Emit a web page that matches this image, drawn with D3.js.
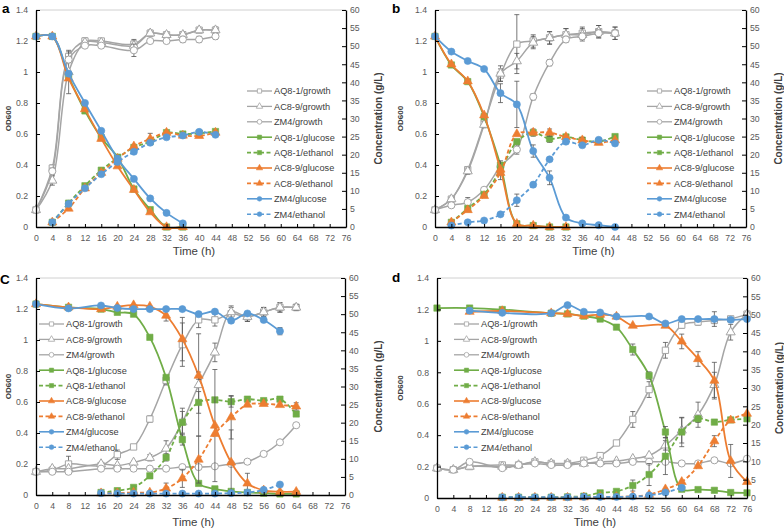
<!DOCTYPE html>
<html>
<head>
<meta charset="utf-8">
<script src="https://cdn.jsdelivr.net/npm/d3@7"></script>
<style>
  body { margin: 0; background: #fff; }
  text { font-family: Arial, "Liberation Sans", sans-serif; }
</style>
</head>
<body>
<svg id="chart" width="784" height="530"></svg>
<script>
// tick labels
const xTicks = [0, 4, 8, 12, 16, 20, 24, 28, 32, 36, 40, 44, 48, 52, 56, 60, 64, 68, 72, 76];
const odTicks = [0, 0.2, 0.4, 0.6, 0.8, 1, 1.2, 1.4];
const concTicks = [0, 5, 10, 15, 20, 25, 30, 35, 40, 45, 50, 55, 60];
const seriesNames = ["AQ8-1/growth", "AC8-9/growth", "ZM4/growth", "AQ8-1/glucose", "AQ8-1/ethanol",
  "AC8-9/glucose", "AC8-9/ethanol", "ZM4/glucose", "ZM4/ethanol"];

// panel a (growth = OD600, glucose/ethanol = g/L)
const aGrowthT = [0, 4, 8, 12, 16, 24, 28, 32, 36, 40, 44];
const aAQGrowth = [0.11, 0.38, 1.10, 1.20, 1.20, 1.18, 1.25, 1.24, 1.24, 1.27, 1.27];
const aACGrowth = [0.11, 0.30, 1.00, 1.19, 1.19, 1.17, 1.25, 1.24, 1.24, 1.27, 1.27];
const aZMGrowth = [0.11, 0.36, 1.08, 1.17, 1.17, 1.14, 1.20, 1.20, 1.21, 1.21, 1.23];
const aAQGrowthErr = [0, 0.02, 0.03, 0.02, 0.01, 0.02, 0.02, 0.01, 0.02, 0.01, 0.02];
const aACGrowthErr = [0, 0.03, 0.14, 0.01, 0.01, 0.04, 0.01, 0.01, 0.01, 0.01, 0.01];
const aZMGrowthErr = [0, 0.02, 0.02, 0.01, 0.01, 0.04, 0.01, 0.01, 0.02, 0.02, 0.02];
const aGluT = [0, 4, 8, 12, 16, 20, 24, 28, 32, 36];
const aAQGlu = [52.7, 52.7, 41.6, 32.1, 24.7, 19.3, 10.5, 4.8, 0, 0];
const aACGlu = [52.7, 52.7, 41.1, 32.6, 24.4, 16.8, 10.3, 4.1, 0, 0];
const aZMGlu = [52.7, 52.7, 42.4, 34.3, 26.6, 18.9, 13.3, 7.9, 3.9, 1.0];
const aEthT = [4, 8, 12, 16, 20, 24, 28, 32, 36, 40, 44];
const aAQEth = [1.3, 6.6, 11.4, 15.7, 19.1, 22.0, 23.6, 26.1, 25.7, 25.9, 26.4];
const aACEth = [1.3, 5.1, 10.7, 15.0, 18.9, 22.3, 24.4, 26.1, 25.3, 25.2, 26.1];
const aZMEth = [1.3, 6.4, 10.7, 14.6, 18.0, 20.8, 23.3, 24.8, 25.3, 26.3, 25.5];
const aACEthErr = [0, 0, 0, 0, 0, 0, 1.5, 0, 0, 0, 0];

// panel b
const bGrowthT = [0, 4, 8, 12, 16, 20, 24, 28, 32, 36, 40, 44];
const bAQGrowth = [0.11, 0.18, 0.37, 0.67, 0.98, 1.18, 1.20, 1.22, 1.24, 1.25, 1.26, 1.25];
const bACGrowth = [0.11, 0.18, 0.36, 0.66, 0.99, 1.07, 1.19, 1.22, 1.24, 1.24, 1.26, 1.25];
const bZMGrowth = [0.11, 0.14, 0.16, 0.24, 0.39, 0.50, 0.84, 1.06, 1.21, 1.23, 1.25, 1.25];
const bAQGrowthErr = [0, 0.01, 0.02, 0.02, 0.04, 0.19, 0.04, 0.04, 0.04, 0.04, 0.04, 0.04];
const bACGrowthErr = [0, 0.01, 0.02, 0.02, 0.05, 0.05, 0.04, 0.04, 0.04, 0.04, 0.04, 0.04];
const bZMGrowthErr = [0, 0.01, 0.03, 0.01, 0.02, 0.03, 0.02, 0.02, 0.02, 0.02, 0.02, 0.02];
const bGluT = [0, 4, 8, 12, 16, 20, 24, 28, 32];
const bAQGlu = [52.7, 44.8, 40.2, 30.5, 17.1, 0.9, 0.4, 0, 0];
const bACGlu = [52.7, 45.0, 40.3, 30.9, 15.9, 0.9, 0.4, 0, 0];
const bZMGlu = [52.7, 48.5, 45.9, 43.7, 37.0, 33.9, 21.0, 13.6, 2.6, 1.0, 0.5, 0];
const bZMGluErr = [0, 0, 0, 0, 2.6, 6.4, 1.7, 1.9, 0, 0, 0, 0];
const bEthT = [4, 8, 12, 16, 20, 24, 28, 32, 36, 40, 44];
const bAQEth = [1.3, 5.1, 9.0, 15.7, 23.6, 26.1, 24.4, 24.9, 24.0, 23.6, 25.0];
const bACEth = [1.3, 4.7, 8.6, 15.0, 25.7, 26.1, 26.1, 24.9, 24.0, 23.3, 24.0];
const bZMEth = [0.4, 1.3, 1.8, 3.5, 7.4, 11.7, 18.7, 23.6, 22.6, 24.1, 23.1];
const bAQEthErr = [0, 0, 0, 2.6, 0, 1.0, 1.0, 0, 0, 0, 0];
const bACEthErr = [0, 0, 0, 0, 0, 0, 1.0, 0, 0.8, 0, 0];
const bZMEthErr = [0, 0, 0, 0, 1.7, 0, 0, 0, 0, 0, 0];

// panel c
const cGrowthT = [0, 4, 8, 16, 20, 24, 28, 32, 36, 40, 44, 48, 52, 56, 60, 64];
const cAQGrowth = [0.15, 0.16, 0.20, 0.19, 0.26, 0.31, 0.49, 0.74, 0.97, 1.13, 1.13, 1.17, 1.15, 1.18, 1.21, 1.21];
const cACGrowth = [0.15, 0.17, 0.17, 0.20, 0.19, 0.21, 0.24, 0.30, 0.47, 0.71, 0.92, 1.18, 1.15, 1.18, 1.21, 1.21];
const cZMGrowth = [0.15, 0.15, 0.15, 0.17, 0.17, 0.17, 0.17, 0.17, 0.18, 0.18, 0.185, 0.20, 0.215, 0.265, 0.34, 0.45];
const cAQGrowthErr = [0, 0, 0.05, 0.02, 0.03, 0.01, 0.02, 0.03, 0.14, 0.05, 0.04, 0.04, 0.03, 0.03, 0.03, 0.02];
const cACGrowthErr = [0, 0, 0, 0, 0, 0.01, 0.02, 0.05, 0.09, 0.33, 0.06, 0.04, 0.03, 0.03, 0.03, 0.02];
const cGluT = [0, 8, 16, 20, 24, 28, 32, 36, 40, 44, 48, 52, 56, 60, 64];
const cAQGlu = [52.8, 51.9, 51.4, 50.5, 50.0, 43.6, 32.5, 15.3, 3.2, 1.7, 1.0, 0.7, 0.5, 0.3, 0.3];
const cACGlu = [52.8, 51.9, 51.4, 52.1, 52.5, 52.1, 49.6, 43.1, 33.0, 19.2, 9.0, 3.2, 1.3, 0.9, 0.9];
const cZMGlu = [52.8, 51.6, 52.4, 51.7, 51.4, 51.4, 51.4, 51.4, 50.0, 50.7, 48.2, 50.2, 48.4, 45.3];
const cAQGluErr = [0, 0, 0, 0, 0, 0, 0, 1.5, 0, 0, 0, 0, 0, 0, 0];
const cACGluErr = [0, 0, 0, 0, 0, 0, 1.5, 6, 1, 15.5, 9, 2.8, 0, 0, 0];
const cZMGluErr = [0, 0, 0, 0, 0, 0, 0, 0, 0, 0, 0, 0, 0, 1];
const cEthT = [16, 20, 24, 28, 32, 36, 40, 44, 48, 52, 56, 60, 64];
const cAQEth = [0.7, 1.2, 2.1, 5.3, 10.4, 20.1, 25.6, 26.3, 25.8, 26.5, 26.1, 26.5, 22.4];
const cACEth = [0.5, 0.5, 0.7, 0.7, 1.8, 4.6, 9.8, 16.9, 21.5, 25.0, 25.2, 24.9, 24.5];
const cZMEth = [0.5, 0.4, 0.4, 0.4, 0.4, 0.4, 0.4, 0.4, 0.5, 0.7, 1.4, 2.9];
const cAQEthErr = [0, 0, 0, 0, 1, 3, 3, 0, 1.5, 0, 0, 0, 0];
const cACEthErr = [0, 0, 0, 0, 1.5, 2.5, 6.5, 0, 6, 0, 0, 0, 1];

// panel d
const dGrowthT = [0, 4, 8, 16, 20, 24, 28, 32, 36, 40, 44, 48, 52, 56, 60, 64, 68, 72, 76];
const dAQGrowth = [0.19, 0.18, 0.20, 0.21, 0.21, 0.23, 0.22, 0.22, 0.24, 0.27, 0.35, 0.50, 0.69, 0.94, 1.10, 1.12, 1.13, 1.14, 1.17];
const dACGrowth = [0.19, 0.18, 0.20, 0.20, 0.21, 0.23, 0.22, 0.22, 0.22, 0.23, 0.235, 0.25, 0.27, 0.335, 0.43, 0.53, 0.72, 1.055, 1.17];
const dZMGrowth = [0.19, 0.18, 0.23, 0.19, 0.21, 0.22, 0.21, 0.21, 0.22, 0.22, 0.22, 0.23, 0.23, 0.23, 0.22, 0.22, 0.24, 0.22, 0.25];
const dAQGrowthErr = [0, 0, 0, 0, 0, 0, 0, 0, 0, 0, 0.01, 0.05, 0.05, 0.05, 0.02, 0.02, 0.02, 0.01, 0.01];
const dACGrowthErr = [0, 0, 0, 0, 0, 0, 0, 0, 0, 0, 0, 0, 0, 0.03, 0.08, 0.08, 0.08, 0.05, 0.01];
const dAQGluT = [0, 8, 16, 28, 32, 36, 40, 44, 48, 52, 56, 60, 64, 68, 72, 76];
const dAQGlu = [51.8, 51.8, 51.4, 50.4, 50.2, 49.6, 48.8, 46.6, 40.5, 33.4, 18.0, 2.4, 2.3, 2.1, 1.5, 1.4];
const dAQGluErr = [0, 0, 0, 0, 0, 0, 0, 0.5, 1.5, 1.0, 1.5, 0, 0, 0, 0, 0];
const dACGluT = [8, 16, 28, 32, 36, 40, 44, 48, 56, 60, 64, 68, 72, 76];
const dACGlu = [50.8, 51.0, 50.4, 50.2, 49.7, 50.0, 49.5, 47.0, 47.0, 42.7, 37.9, 32.0, 10.1, 4.4];
const dACGluErr = [0, 0, 0, 0, 0, 0, 0, 0, 0, 2, 2, 5, 4.5, 0];
const dZMGluT = [8, 16, 28, 32, 36, 40, 44, 52, 56, 60, 64, 68, 72, 76];
const dZMGlu = [51.1, 50.5, 50.4, 52.6, 50.8, 50.6, 49.5, 49.5, 47.6, 48.8, 48.8, 48.8, 48.6, 48.8];
const dZMGluErr = [0, 0, 0, 0, 0, 0, 0, 0, 0, 0, 0, 2, 0, 0];
const dEthT = [16, 20, 24, 28, 32, 36, 40, 44, 48, 52, 56, 60, 64, 68, 72, 76];
const dAQEth = [0.2, 0.2, 0.2, 0.2, 0.3, 0.5, 1.4, 1.8, 3.4, 6.4, 11.4, 18.0, 21.6, 20.7, 21.3, 21.6];
const dACEth = [0.1, 0.1, 0.1, 0.1, 0.1, 0.2, 0.3, 0.3, 0.5, 0.9, 2.4, 4.4, 8.7, 15.5, 21.2, 23.0];
const dZMEth = [0.2, 0.2, 0.2, 0.2, 0.2, 0.3, 0.3, 0.3, 0.4, 0.7, 1.5, 2.8];
const dAQEthErr = [0, 0, 0, 0, 0, 0, 0, 0, 1.5, 3, 5, 4, 1, 0, 0, 0];
const dACEthErr = [0, 0, 0, 0, 0, 0, 0, 0, 0, 0, 0, 0, 0, 1.5, 0, 0];

const GRAY = "#a5a5a5", GREEN = "#70ad47", ORANGE = "#ed7d31", BLUE = "#5b9bd5";
const DASH = "4,2.5";

// one style per legend entry, same order as seriesNames
const styles = [
  { color: GRAY, marker: d3.symbolSquare, open: true, axis: "L" },
  { color: GRAY, marker: d3.symbolTriangle, open: true, axis: "L" },
  { color: GRAY, marker: d3.symbolCircle, open: true, axis: "L" },
  { color: GREEN, marker: d3.symbolSquare, axis: "R" },
  { color: GREEN, marker: d3.symbolSquare, dash: DASH, axis: "R" },
  { color: ORANGE, marker: d3.symbolTriangle, axis: "R" },
  { color: ORANGE, marker: d3.symbolTriangle, dash: DASH, axis: "R" },
  { color: BLUE, marker: d3.symbolCircle, axis: "R" },
  { color: BLUE, marker: d3.symbolCircle, dash: DASH, axis: "R" }
];

const panels = [
  { label: "a", l: 36, r: 346, t: 10, b: 227, lab: [2, 12.5], odX: 10.5, concX: 381.5, timeY: 255,
    leg: { x: 211, y: 81 },
    data: [[aGrowthT, aAQGrowth, aAQGrowthErr], [aGrowthT, aACGrowth, aACGrowthErr], [aGrowthT, aZMGrowth, aZMGrowthErr],
      [aGluT, aAQGlu], [aEthT, aAQEth], [aGluT, aACGlu], [aEthT, aACEth, aACEthErr], [aGluT, aZMGlu], [aEthT, aZMEth]] },
  { label: "b", l: 435, r: 746, t: 10, b: 227, lab: [392, 13], odX: 402.5, concX: 782, timeY: 255,
    leg: { x: 212, y: 81 },
    data: [[bGrowthT, bAQGrowth, bAQGrowthErr], [bGrowthT, bACGrowth, bACGrowthErr], [bGrowthT, bZMGrowth, bZMGrowthErr],
      [bGluT, bAQGlu], [bEthT, bAQEth, bAQEthErr], [bGluT, bACGlu], [bEthT, bACEth, bACEthErr],
      [bGrowthT, bZMGlu, bZMGluErr], [bEthT, bZMEth, bZMEthErr]] },
  { label: "C", l: 36, r: 345, t: 278, b: 495, lab: [0, 283.5], odX: 10.5, concX: 381.5, timeY: 526,
    leg: { x: 3, y: 46 },
    data: [[cGrowthT, cAQGrowth, cAQGrowthErr], [cGrowthT, cACGrowth, cACGrowthErr], [cGrowthT, cZMGrowth],
      [cGluT, cAQGlu, cAQGluErr], [cEthT, cAQEth, cAQEthErr], [cGluT, cACGlu, cACGluErr], [cEthT, cACEth, cACEthErr],
      [cGluT, cZMGlu, cZMGluErr], [cEthT, cZMEth]] },
  { label: "d", l: 437, r: 747, t: 278, b: 498, lab: [392, 282], odX: 402.5, concX: 783, timeY: 526,
    leg: { x: 17, y: 46 },
    data: [[dGrowthT, dAQGrowth, dAQGrowthErr], [dGrowthT, dACGrowth, dACGrowthErr], [dGrowthT, dZMGrowth],
      [dAQGluT, dAQGlu, dAQGluErr], [dEthT, dAQEth, dAQEthErr], [dACGluT, dACGlu, dACGluErr], [dEthT, dACEth, dACEthErr],
      [dZMGluT, dZMGlu, dZMGluErr], [dEthT, dZMEth]] }
];

const svg = d3.select("#chart");

panels.forEach(p => {
  const g = svg.append("g");

  const x = d3.scaleLinear().domain([0, 76]).range([p.l, p.r]);
  const yL = d3.scaleLinear().domain([0, 1.4]).range([p.b, p.t]);
  const yR = d3.scaleLinear().domain([0, 60]).range([p.b, p.t]);

  // top border of plot area
  g.append("line")
      .attr("x1", p.l).attr("x2", p.r)
      .attr("y1", p.t).attr("y2", p.t)
      .attr("stroke", "#d0d0d0").attr("stroke-width", 1);

  // series
  p.data.forEach((d, i) => {
    const st = styles[i];
    const y = st.axis === "L" ? yL : yR;
    const pts = d[1].map((v, k) => ({ t: d[0][k], v: v, e: d[2] ? d[2][k] : 0 }));
    const sg = g.append("g");

    sg.append("path")
        .datum(pts)
        .attr("fill", "none")
        .attr("stroke", st.color)
        .attr("stroke-width", st.open ? 1.5 : 1.8)
        .attr("stroke-dasharray", st.dash || null)
        .attr("d", d3.line()
            .curve(d3.curveCatmullRom.alpha(0.5))
            .x(q => x(q.t))
            .y(q => y(q.v)));

    // error bars
    pts.filter(q => q.e > 0).forEach(q => {
      const cx = x(q.t), y1 = y(q.v + q.e), y2 = y(Math.max(0, q.v - q.e));
      sg.append("path")
          .attr("d", `M${cx},${y1}V${y2}M${cx - 2.5},${y1}H${cx + 2.5}M${cx - 2.5},${y2}H${cx + 2.5}`)
          .attr("stroke", "#555").attr("stroke-width", 0.8).attr("fill", "none");
    });

    sg.selectAll("path.pt")
        .data(pts)
        .enter()
        .append("path")
        .attr("class", "pt")
        .attr("transform", q => `translate(${x(q.t)},${y(q.v)})`)
        .attr("d", d3.symbol().type(st.marker).size(st.marker === d3.symbolTriangle ? 36 : 40))
        .attr("fill", st.open ? "#fff" : st.color)
        .attr("stroke", st.color)
        .attr("stroke-width", st.open ? 1 : 0.6);
  });

  // axes, ticks pointing inside like the original
  const tickStyle = sel => {
    sel.selectAll("text").attr("fill", "#595959").attr("font-size", "8.7px")
        .attr("font-family", "Arial, 'Liberation Sans', sans-serif");
    sel.selectAll("line").attr("stroke", "#000");
    sel.select(".domain").attr("stroke", "#000").attr("stroke-width", 1.3);
  };

  g.append("g")
      .attr("transform", `translate(0,${p.b})`)
      .call(d3.axisBottom(x).tickValues(xTicks).tickSizeInner(-3).tickSizeOuter(0).tickPadding(8))
      .call(tickStyle)
      .call(s => s.select(".domain").attr("stroke-width", 1.6));

  g.append("g")
      .attr("transform", `translate(${p.l},0)`)
      .call(d3.axisLeft(yL).tickValues(odTicks).tickFormat(String).tickSizeInner(-4).tickSizeOuter(0).tickPadding(8))
      .call(tickStyle);

  g.append("g")
      .attr("transform", `translate(${p.r},0)`)
      .call(d3.axisRight(yR).tickValues(concTicks).tickSizeInner(-4).tickSizeOuter(0).tickPadding(4))
      .call(tickStyle);

  // titles
  g.append("text")
      .attr("x", p.lab[0]).attr("y", p.lab[1])
      .attr("font-size", "13.5px").attr("font-weight", "bold").attr("fill", "#000")
      .text(p.label);

  const midY = (p.t + p.b) / 2;
  g.append("text")
      .attr("transform", `translate(${p.odX},${midY}) rotate(-90)`)
      .attr("text-anchor", "middle")
      .attr("font-size", "8px").attr("font-weight", "bold").attr("fill", "#404040")
      .text("OD600");

  g.append("text")
      .attr("transform", `translate(${p.concX},${midY}) rotate(-90)`)
      .attr("text-anchor", "middle")
      .attr("font-size", "10px").attr("font-weight", "bold").attr("fill", "#404040")
      .text("Concentration (g/L)");

  g.append("text")
      .attr("x", (p.l + p.r) / 2 + 3).attr("y", p.timeY)
      .attr("text-anchor", "middle")
      .attr("font-size", "11.5px").attr("fill", "#404040")
      .text("Time (h)");

  // legend
  const lg = g.append("g").attr("transform", `translate(${p.l + p.leg.x},${p.t + p.leg.y})`);
  seriesNames.forEach((name, i) => {
    const st = styles[i];
    const row = lg.append("g").attr("transform", `translate(0,${i * 15.4})`);
    row.append("line")
        .attr("x1", 0).attr("x2", 25)
        .attr("stroke", st.color).attr("stroke-width", st.open ? 1.3 : 1.6)
        .attr("stroke-dasharray", st.dash || null);
    row.append("path")
        .attr("transform", "translate(12.5,0)")
        .attr("d", d3.symbol().type(st.marker).size(18))
        .attr("fill", st.open ? "#fff" : st.color)
        .attr("stroke", st.color)
        .attr("stroke-width", st.open ? 0.8 : 0.5);
    row.append("text")
        .attr("x", 27).attr("y", 3.3)
        .attr("font-size", "9.2px").attr("fill", "#404040")
        .text(name);
  });
});
</script>
</body>
</html>
